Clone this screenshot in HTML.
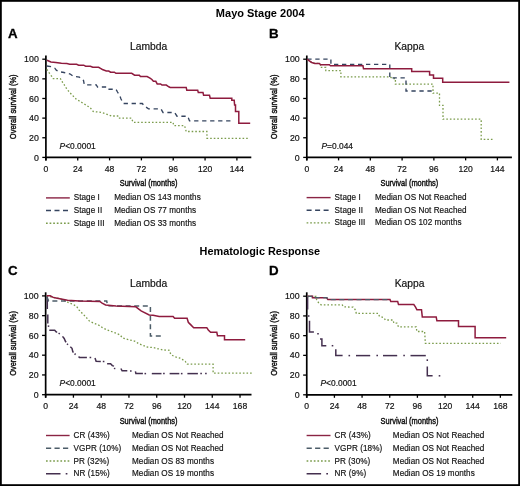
<!DOCTYPE html><html><head><meta charset="utf-8"><style>html,body{margin:0;padding:0;background:#fff;}svg{display:block;filter:blur(0.3px);}</style></head><body>
<svg width="520" height="486" viewBox="0 0 520 486" font-family='"Liberation Sans", sans-serif'>
<rect x="0" y="0" width="520" height="486" fill="#fff"/>
<rect x="0.9" y="0.9" width="518.2" height="484.2" fill="none" stroke="#000" stroke-width="1.8"/>
<text x="260.2" y="16.9" font-size="11" text-anchor="middle" font-weight="bold" fill="#000" >Mayo Stage 2004</text>
<text x="259.8" y="254.6" font-size="10.9" text-anchor="middle" font-weight="bold" fill="#000" >Hematologic Response</text>
<line x1="45.9" y1="55.5" x2="45.9" y2="160.4" stroke="#000" stroke-width="1.7"/>
<line x1="45.05" y1="157.4" x2="251.3" y2="157.4" stroke="#000" stroke-width="1.7"/>
<line x1="42.3" y1="157.40" x2="45.9" y2="157.40" stroke="#000" stroke-width="1.3"/>
<text x="38.80" y="160.50" font-size="8.8" text-anchor="end" font-weight="normal" fill="#111" stroke="#111" stroke-width="0.18" >0</text>
<line x1="42.3" y1="137.76" x2="45.9" y2="137.76" stroke="#000" stroke-width="1.3"/>
<text x="38.80" y="140.86" font-size="8.8" text-anchor="end" font-weight="normal" fill="#111" stroke="#111" stroke-width="0.18" >20</text>
<line x1="42.3" y1="118.12" x2="45.9" y2="118.12" stroke="#000" stroke-width="1.3"/>
<text x="38.80" y="121.22" font-size="8.8" text-anchor="end" font-weight="normal" fill="#111" stroke="#111" stroke-width="0.18" >40</text>
<line x1="42.3" y1="98.48" x2="45.9" y2="98.48" stroke="#000" stroke-width="1.3"/>
<text x="38.80" y="101.58" font-size="8.8" text-anchor="end" font-weight="normal" fill="#111" stroke="#111" stroke-width="0.18" >60</text>
<line x1="42.3" y1="78.84" x2="45.9" y2="78.84" stroke="#000" stroke-width="1.3"/>
<text x="38.80" y="81.94" font-size="8.8" text-anchor="end" font-weight="normal" fill="#111" stroke="#111" stroke-width="0.18" >80</text>
<line x1="42.3" y1="59.20" x2="45.9" y2="59.20" stroke="#000" stroke-width="1.3"/>
<text x="38.80" y="62.30" font-size="8.8" text-anchor="end" font-weight="normal" fill="#111" stroke="#111" stroke-width="0.18" >100</text>
<line x1="45.90" y1="157.4" x2="45.90" y2="160.4" stroke="#000" stroke-width="1.3"/>
<text x="45.90" y="171.80" font-size="8.6" text-anchor="middle" font-weight="normal" fill="#111" stroke="#111" stroke-width="0.18" >0</text>
<line x1="77.73" y1="157.4" x2="77.73" y2="160.4" stroke="#000" stroke-width="1.3"/>
<text x="77.73" y="171.80" font-size="8.6" text-anchor="middle" font-weight="normal" fill="#111" stroke="#111" stroke-width="0.18" >24</text>
<line x1="109.57" y1="157.4" x2="109.57" y2="160.4" stroke="#000" stroke-width="1.3"/>
<text x="109.57" y="171.80" font-size="8.6" text-anchor="middle" font-weight="normal" fill="#111" stroke="#111" stroke-width="0.18" >48</text>
<line x1="141.40" y1="157.4" x2="141.40" y2="160.4" stroke="#000" stroke-width="1.3"/>
<text x="141.40" y="171.80" font-size="8.6" text-anchor="middle" font-weight="normal" fill="#111" stroke="#111" stroke-width="0.18" >72</text>
<line x1="173.23" y1="157.4" x2="173.23" y2="160.4" stroke="#000" stroke-width="1.3"/>
<text x="173.23" y="171.80" font-size="8.6" text-anchor="middle" font-weight="normal" fill="#111" stroke="#111" stroke-width="0.18" >96</text>
<line x1="205.07" y1="157.4" x2="205.07" y2="160.4" stroke="#000" stroke-width="1.3"/>
<text x="205.07" y="171.80" font-size="8.6" text-anchor="middle" font-weight="normal" fill="#111" stroke="#111" stroke-width="0.18" >120</text>
<line x1="236.90" y1="157.4" x2="236.90" y2="160.4" stroke="#000" stroke-width="1.3"/>
<text x="236.90" y="171.80" font-size="8.6" text-anchor="middle" font-weight="normal" fill="#111" stroke="#111" stroke-width="0.18" >144</text>
<text transform="translate(148.60,186.20) scale(0.775,1)" font-size="9.6" text-anchor="middle" fill="#111" stroke="#111" stroke-width="0.45">Survival (months)</text>
<text transform="translate(16.30,106.80) rotate(-90) scale(0.755,1)" font-size="9.9" text-anchor="middle" fill="#111" stroke="#111" stroke-width="0.45">Overall survival (%)</text>
<text x="148.60" y="49.6" font-size="10.3" text-anchor="middle" font-weight="normal" fill="#111" stroke="#111" stroke-width="0.18" >Lambda</text>
<text x="7.9" y="38.3" font-size="13.3" text-anchor="start" font-weight="bold" fill="#000" stroke="#000" stroke-width="0.3">A</text>
<text x="59.6" y="148.8" font-size="8.4" fill="#111" stroke="#111" stroke-width="0.18"><tspan font-style="italic">P</tspan>&lt;0.0001</text>
<line x1="306.8" y1="55.5" x2="306.8" y2="160.4" stroke="#000" stroke-width="1.7"/>
<line x1="305.95" y1="157.4" x2="511.9" y2="157.4" stroke="#000" stroke-width="1.7"/>
<line x1="303.2" y1="157.40" x2="306.8" y2="157.40" stroke="#000" stroke-width="1.3"/>
<text x="299.70" y="160.50" font-size="8.8" text-anchor="end" font-weight="normal" fill="#111" stroke="#111" stroke-width="0.18" >0</text>
<line x1="303.2" y1="137.76" x2="306.8" y2="137.76" stroke="#000" stroke-width="1.3"/>
<text x="299.70" y="140.86" font-size="8.8" text-anchor="end" font-weight="normal" fill="#111" stroke="#111" stroke-width="0.18" >20</text>
<line x1="303.2" y1="118.12" x2="306.8" y2="118.12" stroke="#000" stroke-width="1.3"/>
<text x="299.70" y="121.22" font-size="8.8" text-anchor="end" font-weight="normal" fill="#111" stroke="#111" stroke-width="0.18" >40</text>
<line x1="303.2" y1="98.48" x2="306.8" y2="98.48" stroke="#000" stroke-width="1.3"/>
<text x="299.70" y="101.58" font-size="8.8" text-anchor="end" font-weight="normal" fill="#111" stroke="#111" stroke-width="0.18" >60</text>
<line x1="303.2" y1="78.84" x2="306.8" y2="78.84" stroke="#000" stroke-width="1.3"/>
<text x="299.70" y="81.94" font-size="8.8" text-anchor="end" font-weight="normal" fill="#111" stroke="#111" stroke-width="0.18" >80</text>
<line x1="303.2" y1="59.20" x2="306.8" y2="59.20" stroke="#000" stroke-width="1.3"/>
<text x="299.70" y="62.30" font-size="8.8" text-anchor="end" font-weight="normal" fill="#111" stroke="#111" stroke-width="0.18" >100</text>
<line x1="306.80" y1="157.4" x2="306.80" y2="160.4" stroke="#000" stroke-width="1.3"/>
<text x="306.80" y="171.80" font-size="8.6" text-anchor="middle" font-weight="normal" fill="#111" stroke="#111" stroke-width="0.18" >0</text>
<line x1="338.57" y1="157.4" x2="338.57" y2="160.4" stroke="#000" stroke-width="1.3"/>
<text x="338.57" y="171.80" font-size="8.6" text-anchor="middle" font-weight="normal" fill="#111" stroke="#111" stroke-width="0.18" >24</text>
<line x1="370.33" y1="157.4" x2="370.33" y2="160.4" stroke="#000" stroke-width="1.3"/>
<text x="370.33" y="171.80" font-size="8.6" text-anchor="middle" font-weight="normal" fill="#111" stroke="#111" stroke-width="0.18" >48</text>
<line x1="402.10" y1="157.4" x2="402.10" y2="160.4" stroke="#000" stroke-width="1.3"/>
<text x="402.10" y="171.80" font-size="8.6" text-anchor="middle" font-weight="normal" fill="#111" stroke="#111" stroke-width="0.18" >72</text>
<line x1="433.87" y1="157.4" x2="433.87" y2="160.4" stroke="#000" stroke-width="1.3"/>
<text x="433.87" y="171.80" font-size="8.6" text-anchor="middle" font-weight="normal" fill="#111" stroke="#111" stroke-width="0.18" >96</text>
<line x1="465.63" y1="157.4" x2="465.63" y2="160.4" stroke="#000" stroke-width="1.3"/>
<text x="465.63" y="171.80" font-size="8.6" text-anchor="middle" font-weight="normal" fill="#111" stroke="#111" stroke-width="0.18" >120</text>
<line x1="497.40" y1="157.4" x2="497.40" y2="160.4" stroke="#000" stroke-width="1.3"/>
<text x="497.40" y="171.80" font-size="8.6" text-anchor="middle" font-weight="normal" fill="#111" stroke="#111" stroke-width="0.18" >144</text>
<text transform="translate(409.35,186.20) scale(0.775,1)" font-size="9.6" text-anchor="middle" fill="#111" stroke="#111" stroke-width="0.45">Survival (months)</text>
<text transform="translate(277.30,106.80) rotate(-90) scale(0.755,1)" font-size="9.9" text-anchor="middle" fill="#111" stroke="#111" stroke-width="0.45">Overall survival (%)</text>
<text x="409.35" y="49.6" font-size="10.3" text-anchor="middle" font-weight="normal" fill="#111" stroke="#111" stroke-width="0.18" >Kappa</text>
<text x="268.9" y="38.3" font-size="13.3" text-anchor="start" font-weight="bold" fill="#000" stroke="#000" stroke-width="0.3">B</text>
<text x="321.5" y="148.8" font-size="8.4" fill="#111" stroke="#111" stroke-width="0.18"><tspan font-style="italic">P</tspan>=0.044</text>
<line x1="45.65" y1="292.3" x2="45.65" y2="397.7" stroke="#000" stroke-width="1.7"/>
<line x1="44.8" y1="394.7" x2="251.5" y2="394.7" stroke="#000" stroke-width="1.7"/>
<line x1="42.05" y1="394.70" x2="45.65" y2="394.70" stroke="#000" stroke-width="1.3"/>
<text x="38.55" y="397.80" font-size="8.8" text-anchor="end" font-weight="normal" fill="#111" stroke="#111" stroke-width="0.18" >0</text>
<line x1="42.05" y1="374.94" x2="45.65" y2="374.94" stroke="#000" stroke-width="1.3"/>
<text x="38.55" y="378.04" font-size="8.8" text-anchor="end" font-weight="normal" fill="#111" stroke="#111" stroke-width="0.18" >20</text>
<line x1="42.05" y1="355.18" x2="45.65" y2="355.18" stroke="#000" stroke-width="1.3"/>
<text x="38.55" y="358.28" font-size="8.8" text-anchor="end" font-weight="normal" fill="#111" stroke="#111" stroke-width="0.18" >40</text>
<line x1="42.05" y1="335.42" x2="45.65" y2="335.42" stroke="#000" stroke-width="1.3"/>
<text x="38.55" y="338.52" font-size="8.8" text-anchor="end" font-weight="normal" fill="#111" stroke="#111" stroke-width="0.18" >60</text>
<line x1="42.05" y1="315.66" x2="45.65" y2="315.66" stroke="#000" stroke-width="1.3"/>
<text x="38.55" y="318.76" font-size="8.8" text-anchor="end" font-weight="normal" fill="#111" stroke="#111" stroke-width="0.18" >80</text>
<line x1="42.05" y1="295.90" x2="45.65" y2="295.90" stroke="#000" stroke-width="1.3"/>
<text x="38.55" y="299.00" font-size="8.8" text-anchor="end" font-weight="normal" fill="#111" stroke="#111" stroke-width="0.18" >100</text>
<line x1="45.65" y1="394.7" x2="45.65" y2="397.7" stroke="#000" stroke-width="1.3"/>
<text x="45.65" y="409.10" font-size="8.6" text-anchor="middle" font-weight="normal" fill="#111" stroke="#111" stroke-width="0.18" >0</text>
<line x1="73.42" y1="394.7" x2="73.42" y2="397.7" stroke="#000" stroke-width="1.3"/>
<text x="73.42" y="409.10" font-size="8.6" text-anchor="middle" font-weight="normal" fill="#111" stroke="#111" stroke-width="0.18" >24</text>
<line x1="101.19" y1="394.7" x2="101.19" y2="397.7" stroke="#000" stroke-width="1.3"/>
<text x="101.19" y="409.10" font-size="8.6" text-anchor="middle" font-weight="normal" fill="#111" stroke="#111" stroke-width="0.18" >48</text>
<line x1="128.95" y1="394.7" x2="128.95" y2="397.7" stroke="#000" stroke-width="1.3"/>
<text x="128.95" y="409.10" font-size="8.6" text-anchor="middle" font-weight="normal" fill="#111" stroke="#111" stroke-width="0.18" >72</text>
<line x1="156.72" y1="394.7" x2="156.72" y2="397.7" stroke="#000" stroke-width="1.3"/>
<text x="156.72" y="409.10" font-size="8.6" text-anchor="middle" font-weight="normal" fill="#111" stroke="#111" stroke-width="0.18" >96</text>
<line x1="184.49" y1="394.7" x2="184.49" y2="397.7" stroke="#000" stroke-width="1.3"/>
<text x="184.49" y="409.10" font-size="8.6" text-anchor="middle" font-weight="normal" fill="#111" stroke="#111" stroke-width="0.18" >120</text>
<line x1="212.26" y1="394.7" x2="212.26" y2="397.7" stroke="#000" stroke-width="1.3"/>
<text x="212.26" y="409.10" font-size="8.6" text-anchor="middle" font-weight="normal" fill="#111" stroke="#111" stroke-width="0.18" >144</text>
<line x1="240.03" y1="394.7" x2="240.03" y2="397.7" stroke="#000" stroke-width="1.3"/>
<text x="240.03" y="409.10" font-size="8.6" text-anchor="middle" font-weight="normal" fill="#111" stroke="#111" stroke-width="0.18" >168</text>
<text transform="translate(148.57,423.50) scale(0.775,1)" font-size="9.6" text-anchor="middle" fill="#111" stroke="#111" stroke-width="0.45">Survival (months)</text>
<text transform="translate(16.30,343.50) rotate(-90) scale(0.755,1)" font-size="9.9" text-anchor="middle" fill="#111" stroke="#111" stroke-width="0.45">Overall survival (%)</text>
<text x="148.57" y="286.9" font-size="10.3" text-anchor="middle" font-weight="normal" fill="#111" stroke="#111" stroke-width="0.18" >Lambda</text>
<text x="7.9" y="275.4" font-size="13.3" text-anchor="start" font-weight="bold" fill="#000" stroke="#000" stroke-width="0.3">C</text>
<text x="59.6" y="386.2" font-size="8.4" fill="#111" stroke="#111" stroke-width="0.18"><tspan font-style="italic">P</tspan>&lt;0.0001</text>
<line x1="306.75" y1="292.3" x2="306.75" y2="397.8" stroke="#000" stroke-width="1.7"/>
<line x1="305.9" y1="394.8" x2="512.3" y2="394.8" stroke="#000" stroke-width="1.7"/>
<line x1="303.15" y1="394.80" x2="306.75" y2="394.80" stroke="#000" stroke-width="1.3"/>
<text x="299.65" y="397.90" font-size="8.8" text-anchor="end" font-weight="normal" fill="#111" stroke="#111" stroke-width="0.18" >0</text>
<line x1="303.15" y1="375.08" x2="306.75" y2="375.08" stroke="#000" stroke-width="1.3"/>
<text x="299.65" y="378.18" font-size="8.8" text-anchor="end" font-weight="normal" fill="#111" stroke="#111" stroke-width="0.18" >20</text>
<line x1="303.15" y1="355.36" x2="306.75" y2="355.36" stroke="#000" stroke-width="1.3"/>
<text x="299.65" y="358.46" font-size="8.8" text-anchor="end" font-weight="normal" fill="#111" stroke="#111" stroke-width="0.18" >40</text>
<line x1="303.15" y1="335.64" x2="306.75" y2="335.64" stroke="#000" stroke-width="1.3"/>
<text x="299.65" y="338.74" font-size="8.8" text-anchor="end" font-weight="normal" fill="#111" stroke="#111" stroke-width="0.18" >60</text>
<line x1="303.15" y1="315.92" x2="306.75" y2="315.92" stroke="#000" stroke-width="1.3"/>
<text x="299.65" y="319.02" font-size="8.8" text-anchor="end" font-weight="normal" fill="#111" stroke="#111" stroke-width="0.18" >80</text>
<line x1="303.15" y1="296.20" x2="306.75" y2="296.20" stroke="#000" stroke-width="1.3"/>
<text x="299.65" y="299.30" font-size="8.8" text-anchor="end" font-weight="normal" fill="#111" stroke="#111" stroke-width="0.18" >100</text>
<line x1="306.75" y1="394.8" x2="306.75" y2="397.8" stroke="#000" stroke-width="1.3"/>
<text x="306.75" y="409.20" font-size="8.6" text-anchor="middle" font-weight="normal" fill="#111" stroke="#111" stroke-width="0.18" >0</text>
<line x1="334.41" y1="394.8" x2="334.41" y2="397.8" stroke="#000" stroke-width="1.3"/>
<text x="334.41" y="409.20" font-size="8.6" text-anchor="middle" font-weight="normal" fill="#111" stroke="#111" stroke-width="0.18" >24</text>
<line x1="362.07" y1="394.8" x2="362.07" y2="397.8" stroke="#000" stroke-width="1.3"/>
<text x="362.07" y="409.20" font-size="8.6" text-anchor="middle" font-weight="normal" fill="#111" stroke="#111" stroke-width="0.18" >48</text>
<line x1="389.73" y1="394.8" x2="389.73" y2="397.8" stroke="#000" stroke-width="1.3"/>
<text x="389.73" y="409.20" font-size="8.6" text-anchor="middle" font-weight="normal" fill="#111" stroke="#111" stroke-width="0.18" >72</text>
<line x1="417.39" y1="394.8" x2="417.39" y2="397.8" stroke="#000" stroke-width="1.3"/>
<text x="417.39" y="409.20" font-size="8.6" text-anchor="middle" font-weight="normal" fill="#111" stroke="#111" stroke-width="0.18" >96</text>
<line x1="445.05" y1="394.8" x2="445.05" y2="397.8" stroke="#000" stroke-width="1.3"/>
<text x="445.05" y="409.20" font-size="8.6" text-anchor="middle" font-weight="normal" fill="#111" stroke="#111" stroke-width="0.18" >120</text>
<line x1="472.71" y1="394.8" x2="472.71" y2="397.8" stroke="#000" stroke-width="1.3"/>
<text x="472.71" y="409.20" font-size="8.6" text-anchor="middle" font-weight="normal" fill="#111" stroke="#111" stroke-width="0.18" >144</text>
<line x1="500.37" y1="394.8" x2="500.37" y2="397.8" stroke="#000" stroke-width="1.3"/>
<text x="500.37" y="409.20" font-size="8.6" text-anchor="middle" font-weight="normal" fill="#111" stroke="#111" stroke-width="0.18" >168</text>
<text transform="translate(409.52,423.60) scale(0.775,1)" font-size="9.6" text-anchor="middle" fill="#111" stroke="#111" stroke-width="0.45">Survival (months)</text>
<text transform="translate(277.30,343.50) rotate(-90) scale(0.755,1)" font-size="9.9" text-anchor="middle" fill="#111" stroke="#111" stroke-width="0.45">Overall survival (%)</text>
<text x="409.52" y="286.9" font-size="10.3" text-anchor="middle" font-weight="normal" fill="#111" stroke="#111" stroke-width="0.18" >Kappa</text>
<text x="268.9" y="275.4" font-size="13.3" text-anchor="start" font-weight="bold" fill="#000" stroke="#000" stroke-width="0.3">D</text>
<text x="320.5" y="386.2" font-size="8.4" fill="#111" stroke="#111" stroke-width="0.18"><tspan font-style="italic">P</tspan>&lt;0.0001</text>
<path d="M46.80 69.40 L49.40 73.20 L51.70 76.30 L53.20 78.60 L60.20 78.60 L61.70 80.20 L62.80 83.20 L64.00 84.50 L67.10 89.50 L71.70 94.60 L76.30 99.20 L84.00 103.80 L90.20 107.70 L93.20 111.50 L100.90 112.30 L105.50 113.80 L111.70 116.00 L117.70 116.00 L118.50 118.20 L131.50 118.20 L133.00 122.30 L173.00 122.30 L173.80 125.70 L184.60 125.70 L186.20 131.50 L206.90 131.50 L207.00 138.30 L248.00 138.30" fill="none" stroke="#7b9c4c" stroke-width="1.3" stroke-dasharray="1.6 2.0" stroke-linejoin="miter" stroke-linecap="butt"/>
<path d="M46.80 66.00 L51.70 66.70 L54.80 68.20 L56.30 70.20 L59.40 71.70 L64.00 72.50 L70.20 74.00 L73.20 76.30 L79.40 77.10 L81.70 79.40 L83.50 80.50 L84.30 84.80 L96.30 84.80 L97.50 87.00 L107.00 87.00 L108.00 89.20 L116.00 89.20 L117.50 92.00 L119.50 95.00 L121.00 99.00 L123.30 103.50 L142.30 103.50 L144.60 106.20 L148.50 108.80 L161.00 108.80 L163.00 112.50 L174.60 112.50 L177.00 116.20 L187.70 116.20 L189.50 120.90 L234.00 120.90" fill="none" stroke="#35445f" stroke-width="1.35" stroke-dasharray="4.3 3.7" stroke-linejoin="miter" stroke-linecap="butt"/>
<path d="M47.00 60.20 L50.90 61.90 L55.80 62.60 L61.40 63.30 L66.90 63.60 L69.70 64.20 L76.60 64.30 L78.70 65.20 L83.70 65.20 L85.60 66.20 L90.40 66.20 L92.80 67.30 L98.60 67.30 L100.50 68.40 L102.40 69.50 L106.30 71.00 L108.70 71.00 L110.60 72.20 L114.40 72.20 L115.90 73.30 L131.70 73.30 L134.60 75.20 L139.40 75.20 L140.40 76.50 L147.10 76.50 L150.00 78.10 L151.90 79.50 L153.40 81.30 L155.80 81.30 L157.20 83.90 L160.60 83.90 L162.00 85.10 L166.30 85.10 L168.80 86.80 L170.20 87.40 L186.20 87.40 L186.80 90.20 L197.70 90.20 L198.30 92.50 L203.00 92.50 L203.60 95.30 L209.50 95.30 L210.20 98.20 L231.80 98.20 L231.80 100.20 L234.20 100.20 L234.60 105.00 L235.50 105.00 L235.50 111.60 L238.80 111.60 L238.80 123.20 L250.20 123.20" fill="none" stroke="#8e1b3e" stroke-width="1.5" stroke-linejoin="miter" stroke-linecap="butt"/>
<path d="M307.30 59.20 L308.60 60.50 L311.70 62.50 L314.80 63.40 L319.40 63.40 L320.50 64.80 L320.50 67.40 L325.80 67.40 L325.80 70.60 L340.90 70.60 L340.90 76.90 L390.40 76.90 L392.00 78.50 L395.40 78.50 L395.40 84.10 L433.00 84.10 L433.00 93.20 L439.50 93.20 L439.50 105.40 L443.00 105.40 L443.00 119.20 L481.20 119.20 L481.20 139.40 L494.00 139.40" fill="none" stroke="#7b9c4c" stroke-width="1.3" stroke-dasharray="1.6 2.0" stroke-linejoin="miter" stroke-linecap="butt"/>
<path d="M307.30 59.10 L330.90 59.10 L330.90 64.40 L389.80 64.40 L389.80 77.90 L406.00 77.90 L406.00 91.00 L433.30 91.00" fill="none" stroke="#35445f" stroke-width="1.35" stroke-dasharray="4.3 3.7" stroke-linejoin="miter" stroke-linecap="butt"/>
<path d="M307.30 59.00 L308.60 60.50 L311.70 62.50 L314.80 63.40 L319.40 63.40 L320.50 64.80 L329.40 64.80 L330.50 65.80 L363.00 65.80 L363.50 68.80 L411.70 68.80 L411.70 71.60 L429.60 71.60 L429.60 74.90 L433.50 74.90 L433.50 78.30 L442.70 78.30 L442.70 82.30 L509.40 82.30" fill="none" stroke="#8e1b3e" stroke-width="1.5" stroke-linejoin="miter" stroke-linecap="butt"/>
<path d="M47.30 296.00 L47.30 309.00" fill="none" stroke="#44304f" stroke-width="1.5" stroke-linejoin="miter" stroke-linecap="butt"/>
<path d="M47.80 314.50 L47.80 323.50" fill="none" stroke="#44304f" stroke-width="1.5" stroke-linejoin="miter" stroke-linecap="butt"/>
<path d="M48.50 325.40 L48.50 326.90" fill="none" stroke="#44304f" stroke-width="1.5" stroke-linejoin="miter" stroke-linecap="butt"/>
<path d="M49.30 330.20 L54.70 330.20 L56.30 331.90 L57.20 331.90" fill="none" stroke="#44304f" stroke-width="1.5" stroke-linejoin="miter" stroke-linecap="butt"/>
<path d="M58.60 333.20 L59.80 334.00" fill="none" stroke="#44304f" stroke-width="1.5" stroke-linejoin="miter" stroke-linecap="butt"/>
<path d="M62.50 336.40 L64.20 338.50 L65.40 341.30 L66.10 342.20" fill="none" stroke="#44304f" stroke-width="1.5" stroke-linejoin="miter" stroke-linecap="butt"/>
<path d="M67.00 343.70 L68.00 344.70" fill="none" stroke="#44304f" stroke-width="1.5" stroke-linejoin="miter" stroke-linecap="butt"/>
<path d="M70.30 346.70 L72.00 348.30 L72.80 351.60 L73.50 352.50" fill="none" stroke="#44304f" stroke-width="1.5" stroke-linejoin="miter" stroke-linecap="butt"/>
<path d="M74.60 353.60 L75.60 354.60" fill="none" stroke="#44304f" stroke-width="1.5" stroke-linejoin="miter" stroke-linecap="butt"/>
<path d="M78.60 356.60 L79.40 357.50 L86.90 357.50" fill="none" stroke="#44304f" stroke-width="1.5" stroke-linejoin="miter" stroke-linecap="butt"/>
<path d="M89.60 357.50 L91.20 357.50" fill="none" stroke="#44304f" stroke-width="1.5" stroke-linejoin="miter" stroke-linecap="butt"/>
<path d="M95.00 358.10 L96.10 361.30 L100.80 361.50" fill="none" stroke="#44304f" stroke-width="1.5" stroke-linejoin="miter" stroke-linecap="butt"/>
<path d="M102.80 361.50 L104.40 361.50" fill="none" stroke="#44304f" stroke-width="1.5" stroke-linejoin="miter" stroke-linecap="butt"/>
<path d="M107.10 363.80 L110.60 363.80 L112.30 365.60 L114.00 366.10" fill="none" stroke="#44304f" stroke-width="1.5" stroke-linejoin="miter" stroke-linecap="butt"/>
<path d="M114.60 367.80 L114.60 369.20" fill="none" stroke="#44304f" stroke-width="1.5" stroke-linejoin="miter" stroke-linecap="butt"/>
<path d="M120.90 368.50 L122.10 370.80 L127.30 370.80" fill="none" stroke="#44304f" stroke-width="1.5" stroke-linejoin="miter" stroke-linecap="butt"/>
<path d="M130.00 371.00 L131.60 371.00" fill="none" stroke="#44304f" stroke-width="1.5" stroke-linejoin="miter" stroke-linecap="butt"/>
<path d="M135.40 371.30 L135.90 373.60 L142.90 373.60" fill="none" stroke="#44304f" stroke-width="1.5" stroke-linejoin="miter" stroke-linecap="butt"/>
<path d="M144.50 373.60 L146.10 373.60" fill="none" stroke="#44304f" stroke-width="1.5" stroke-linejoin="miter" stroke-linecap="butt"/>
<path d="M151.80 373.60 L161.50 373.60" fill="none" stroke="#44304f" stroke-width="1.5" stroke-linejoin="miter" stroke-linecap="butt"/>
<path d="M163.10 373.60 L164.70 373.60" fill="none" stroke="#44304f" stroke-width="1.5" stroke-linejoin="miter" stroke-linecap="butt"/>
<path d="M169.60 373.60 L179.30 373.60" fill="none" stroke="#44304f" stroke-width="1.5" stroke-linejoin="miter" stroke-linecap="butt"/>
<path d="M180.90 373.60 L182.50 373.60" fill="none" stroke="#44304f" stroke-width="1.5" stroke-linejoin="miter" stroke-linecap="butt"/>
<path d="M187.40 373.60 L197.90 373.60" fill="none" stroke="#44304f" stroke-width="1.5" stroke-linejoin="miter" stroke-linecap="butt"/>
<path d="M200.30 373.60 L201.90 373.60" fill="none" stroke="#44304f" stroke-width="1.5" stroke-linejoin="miter" stroke-linecap="butt"/>
<path d="M205.10 373.60 L206.70 373.60" fill="none" stroke="#44304f" stroke-width="1.5" stroke-linejoin="miter" stroke-linecap="butt"/>
<path d="M46.60 295.80 L53.20 297.40 L59.40 298.50 L65.20 300.90 L69.80 303.20 L73.30 304.40 L76.80 306.70 L79.10 310.10 L82.50 313.60 L86.00 317.10 L89.40 321.10 L94.10 323.40 L98.70 325.10 L102.10 327.40 L106.70 329.80 L111.40 331.50 L116.00 333.20 L120.10 334.90 L122.40 337.80 L125.80 339.00 L135.10 341.30 L138.50 343.60 L144.30 345.90 L146.60 347.00 L153.50 347.60 L158.10 348.80 L162.70 349.90 L169.30 350.30 L170.30 353.10 L171.70 355.10 L175.60 357.00 L179.40 357.90 L182.30 359.40 L185.20 361.30 L187.10 364.20 L213.10 364.20 L213.10 373.20 L252.30 373.20" fill="none" stroke="#7b9c4c" stroke-width="1.3" stroke-dasharray="1.6 2.0" stroke-linejoin="miter" stroke-linecap="butt"/>
<path d="M46.60 296.50 L48.60 300.90 L106.70 300.90 L107.50 305.80 L137.80 306.10 L150.40 306.10 L150.40 336.10 L161.60 336.10" fill="none" stroke="#4c5c68" stroke-width="1.5" stroke-dasharray="5 3.6" stroke-linejoin="miter" stroke-linecap="butt"/>
<path d="M46.60 295.80 L50.20 295.80 L53.20 297.40 L56.00 298.00 L67.50 300.30 L79.10 300.90 L99.80 301.50 L102.10 303.20 L105.60 305.00 L116.00 306.10 L135.80 306.80 L141.10 310.80 L149.20 314.90 L153.10 315.20 L159.20 316.50 L173.10 316.50 L174.60 318.20 L187.10 318.20 L188.30 322.30 L190.60 324.60 L193.70 327.70 L206.80 327.70 L208.30 330.00 L210.60 332.30 L216.80 332.30 L217.50 335.70 L224.50 335.70 L224.50 339.70 L245.20 339.70" fill="none" stroke="#8e1b3e" stroke-width="1.5" stroke-linejoin="miter" stroke-linecap="butt"/>
<path d="M307.60 296.50 L307.60 309.50" fill="none" stroke="#44304f" stroke-width="1.5" stroke-linejoin="miter" stroke-linecap="butt"/>
<path d="M308.70 315.20 L308.70 316.80" fill="none" stroke="#44304f" stroke-width="1.5" stroke-linejoin="miter" stroke-linecap="butt"/>
<path d="M309.50 320.80 L309.50 331.90 L313.90 331.90" fill="none" stroke="#44304f" stroke-width="1.5" stroke-linejoin="miter" stroke-linecap="butt"/>
<path d="M317.20 333.80 L318.80 333.80" fill="none" stroke="#44304f" stroke-width="1.5" stroke-linejoin="miter" stroke-linecap="butt"/>
<path d="M320.00 338.90 L321.90 338.90 L321.90 345.70 L326.30 345.70" fill="none" stroke="#44304f" stroke-width="1.5" stroke-linejoin="miter" stroke-linecap="butt"/>
<path d="M331.70 345.70 L333.30 345.70" fill="none" stroke="#44304f" stroke-width="1.5" stroke-linejoin="miter" stroke-linecap="butt"/>
<path d="M335.80 349.30 L335.80 355.60 L342.60 355.60" fill="none" stroke="#44304f" stroke-width="1.5" stroke-linejoin="miter" stroke-linecap="butt"/>
<path d="M348.50 355.60 L350.10 355.60" fill="none" stroke="#44304f" stroke-width="1.5" stroke-linejoin="miter" stroke-linecap="butt"/>
<path d="M356.00 355.60 L370.20 355.60" fill="none" stroke="#44304f" stroke-width="1.5" stroke-linejoin="miter" stroke-linecap="butt"/>
<path d="M376.40 355.60 L378.00 355.60" fill="none" stroke="#44304f" stroke-width="1.5" stroke-linejoin="miter" stroke-linecap="butt"/>
<path d="M383.00 355.60 L397.20 355.60" fill="none" stroke="#44304f" stroke-width="1.5" stroke-linejoin="miter" stroke-linecap="butt"/>
<path d="M403.30 355.60 L404.90 355.60" fill="none" stroke="#44304f" stroke-width="1.5" stroke-linejoin="miter" stroke-linecap="butt"/>
<path d="M410.50 355.60 L425.80 355.60" fill="none" stroke="#44304f" stroke-width="1.5" stroke-linejoin="miter" stroke-linecap="butt"/>
<path d="M427.30 359.30 L427.30 361.00" fill="none" stroke="#44304f" stroke-width="1.5" stroke-linejoin="miter" stroke-linecap="butt"/>
<path d="M427.30 366.40 L427.30 375.80 L432.60 375.80" fill="none" stroke="#44304f" stroke-width="1.5" stroke-linejoin="miter" stroke-linecap="butt"/>
<path d="M438.70 375.80 L440.30 375.80" fill="none" stroke="#44304f" stroke-width="1.5" stroke-linejoin="miter" stroke-linecap="butt"/>
<path d="M307.40 296.50 L316.00 296.50 L316.80 300.80 L318.70 302.70 L321.00 304.80 L342.20 304.80 L343.70 306.80 L353.20 307.20 L355.50 310.00 L356.30 313.40 L378.50 313.40 L379.40 316.20 L383.80 317.70 L385.40 320.00 L393.10 320.00 L393.80 323.10 L396.90 323.10 L398.50 326.90 L416.20 326.90 L416.90 331.50 L424.60 331.50 L425.40 343.30 L500.80 343.30" fill="none" stroke="#7b9c4c" stroke-width="1.3" stroke-dasharray="1.6 2.0" stroke-linejoin="miter" stroke-linecap="butt"/>
<path d="M307.40 296.30 L312.50 296.30 L312.50 297.80 L326.80 297.80 L327.90 299.60 L390.00 299.60 L390.80 301.50 L397.70 301.50 L398.50 304.60 L413.80 304.60 L415.40 306.90 L416.90 309.70 L421.50 309.70 L422.30 316.90 L436.20 316.90 L436.90 320.80 L458.50 320.80 L458.50 326.50 L475.10 326.50 L475.10 337.70 L506.20 337.70" fill="none" stroke="#8e1b3e" stroke-width="1.5" stroke-linejoin="miter" stroke-linecap="butt"/>
<path d="M307.40 296.30 L312.50 296.30 L312.50 297.70 L326.80 297.70 L327.90 299.60 L390.00 299.60" fill="none" stroke="#4c5c68" stroke-width="1.3" stroke-dasharray="5 3.6" stroke-linejoin="miter" stroke-linecap="butt"/>
<line x1="46" y1="197.90" x2="69.8" y2="197.90" stroke="#8a2444" stroke-width="1.4"/>
<text transform="translate(73.7,200.40) scale(0.905,1)" font-size="9.0" letter-spacing="0.06" fill="#111" stroke="#111" stroke-width="0.18">Stage I</text>
<text transform="translate(114.2,200.40) scale(0.905,1)" font-size="9.0" letter-spacing="0.06" fill="#111" stroke="#111" stroke-width="0.18">Median OS 143 months</text>
<line x1="46" y1="210.55" x2="69.8" y2="210.55" stroke="#35445f" stroke-width="1.4" stroke-dasharray="5 3.5"/>
<text transform="translate(73.7,213.05) scale(0.905,1)" font-size="9.0" letter-spacing="0.06" fill="#111" stroke="#111" stroke-width="0.18">Stage II</text>
<text transform="translate(114.2,213.05) scale(0.905,1)" font-size="9.0" letter-spacing="0.06" fill="#111" stroke="#111" stroke-width="0.18">Median OS 77 months</text>
<line x1="46" y1="223.20" x2="69.8" y2="223.20" stroke="#7b9c4c" stroke-width="1.4" stroke-dasharray="1.7 1.9"/>
<text transform="translate(73.7,225.70) scale(0.905,1)" font-size="9.0" letter-spacing="0.06" fill="#111" stroke="#111" stroke-width="0.18">Stage III</text>
<text transform="translate(114.2,225.70) scale(0.905,1)" font-size="9.0" letter-spacing="0.06" fill="#111" stroke="#111" stroke-width="0.18">Median OS 33 months</text>
<line x1="306.6" y1="197.60" x2="330.6" y2="197.60" stroke="#8a2444" stroke-width="1.4"/>
<text transform="translate(334.6,200.10) scale(0.905,1)" font-size="9.0" letter-spacing="0.06" fill="#111" stroke="#111" stroke-width="0.18">Stage I</text>
<text transform="translate(375.0,200.10) scale(0.905,1)" font-size="9.0" letter-spacing="0.06" fill="#111" stroke="#111" stroke-width="0.18">Median OS Not Reached</text>
<line x1="306.6" y1="210.25" x2="330.6" y2="210.25" stroke="#35445f" stroke-width="1.4" stroke-dasharray="5 3.5"/>
<text transform="translate(334.6,212.75) scale(0.905,1)" font-size="9.0" letter-spacing="0.06" fill="#111" stroke="#111" stroke-width="0.18">Stage II</text>
<text transform="translate(375.0,212.75) scale(0.905,1)" font-size="9.0" letter-spacing="0.06" fill="#111" stroke="#111" stroke-width="0.18">Median OS Not Reached</text>
<line x1="306.6" y1="222.90" x2="330.6" y2="222.90" stroke="#7b9c4c" stroke-width="1.4" stroke-dasharray="1.7 1.9"/>
<text transform="translate(334.6,225.40) scale(0.905,1)" font-size="9.0" letter-spacing="0.06" fill="#111" stroke="#111" stroke-width="0.18">Stage III</text>
<text transform="translate(375.0,225.40) scale(0.905,1)" font-size="9.0" letter-spacing="0.06" fill="#111" stroke="#111" stroke-width="0.18">Median OS 102 months</text>
<line x1="46" y1="435.50" x2="69.6" y2="435.50" stroke="#8a2444" stroke-width="1.4"/>
<text transform="translate(73.6,438.00) scale(0.905,1)" font-size="9.0" letter-spacing="0.06" fill="#111" stroke="#111" stroke-width="0.18">CR (43%)</text>
<text transform="translate(132.0,438.00) scale(0.905,1)" font-size="9.0" letter-spacing="0.06" fill="#111" stroke="#111" stroke-width="0.18">Median OS Not Reached</text>
<line x1="46" y1="448.25" x2="69.6" y2="448.25" stroke="#4c5c68" stroke-width="1.4" stroke-dasharray="5.2 3.3"/>
<text transform="translate(73.6,450.75) scale(0.905,1)" font-size="9.0" letter-spacing="0.06" fill="#111" stroke="#111" stroke-width="0.18">VGPR (10%)</text>
<text transform="translate(132.0,450.75) scale(0.905,1)" font-size="9.0" letter-spacing="0.06" fill="#111" stroke="#111" stroke-width="0.18">Median OS Not Reached</text>
<line x1="46" y1="461.00" x2="69.6" y2="461.00" stroke="#7b9c4c" stroke-width="1.4" stroke-dasharray="1.7 1.9"/>
<text transform="translate(73.6,463.50) scale(0.905,1)" font-size="9.0" letter-spacing="0.06" fill="#111" stroke="#111" stroke-width="0.18">PR (32%)</text>
<text transform="translate(132.0,463.50) scale(0.905,1)" font-size="9.0" letter-spacing="0.06" fill="#111" stroke="#111" stroke-width="0.18">Median OS 83 months</text>
<line x1="46" y1="473.75" x2="69.6" y2="473.75" stroke="#44304f" stroke-width="1.4" stroke-dasharray="14.5 5.2 1.7 10"/>
<text transform="translate(73.6,476.25) scale(0.905,1)" font-size="9.0" letter-spacing="0.06" fill="#111" stroke="#111" stroke-width="0.18">NR (15%)</text>
<text transform="translate(132.0,476.25) scale(0.905,1)" font-size="9.0" letter-spacing="0.06" fill="#111" stroke="#111" stroke-width="0.18">Median OS 19 months</text>
<line x1="306.6" y1="435.50" x2="330.5" y2="435.50" stroke="#8a2444" stroke-width="1.4"/>
<text transform="translate(334.6,438.00) scale(0.905,1)" font-size="9.0" letter-spacing="0.06" fill="#111" stroke="#111" stroke-width="0.18">CR (43%)</text>
<text transform="translate(392.8,438.00) scale(0.905,1)" font-size="9.0" letter-spacing="0.06" fill="#111" stroke="#111" stroke-width="0.18">Median OS Not Reached</text>
<line x1="306.6" y1="448.25" x2="330.5" y2="448.25" stroke="#4c5c68" stroke-width="1.4" stroke-dasharray="5.2 3.3"/>
<text transform="translate(334.6,450.75) scale(0.905,1)" font-size="9.0" letter-spacing="0.06" fill="#111" stroke="#111" stroke-width="0.18">VGPR (18%)</text>
<text transform="translate(392.8,450.75) scale(0.905,1)" font-size="9.0" letter-spacing="0.06" fill="#111" stroke="#111" stroke-width="0.18">Median OS Not Reached</text>
<line x1="306.6" y1="461.00" x2="330.5" y2="461.00" stroke="#7b9c4c" stroke-width="1.4" stroke-dasharray="1.7 1.9"/>
<text transform="translate(334.6,463.50) scale(0.905,1)" font-size="9.0" letter-spacing="0.06" fill="#111" stroke="#111" stroke-width="0.18">PR (30%)</text>
<text transform="translate(392.8,463.50) scale(0.905,1)" font-size="9.0" letter-spacing="0.06" fill="#111" stroke="#111" stroke-width="0.18">Median OS Not Reached</text>
<line x1="306.6" y1="473.75" x2="330.5" y2="473.75" stroke="#44304f" stroke-width="1.4" stroke-dasharray="14.5 5.2 1.7 10"/>
<text transform="translate(334.6,476.25) scale(0.905,1)" font-size="9.0" letter-spacing="0.06" fill="#111" stroke="#111" stroke-width="0.18">NR (9%)</text>
<text transform="translate(392.8,476.25) scale(0.905,1)" font-size="9.0" letter-spacing="0.06" fill="#111" stroke="#111" stroke-width="0.18">Median OS 19 months</text>
</svg></body></html>
